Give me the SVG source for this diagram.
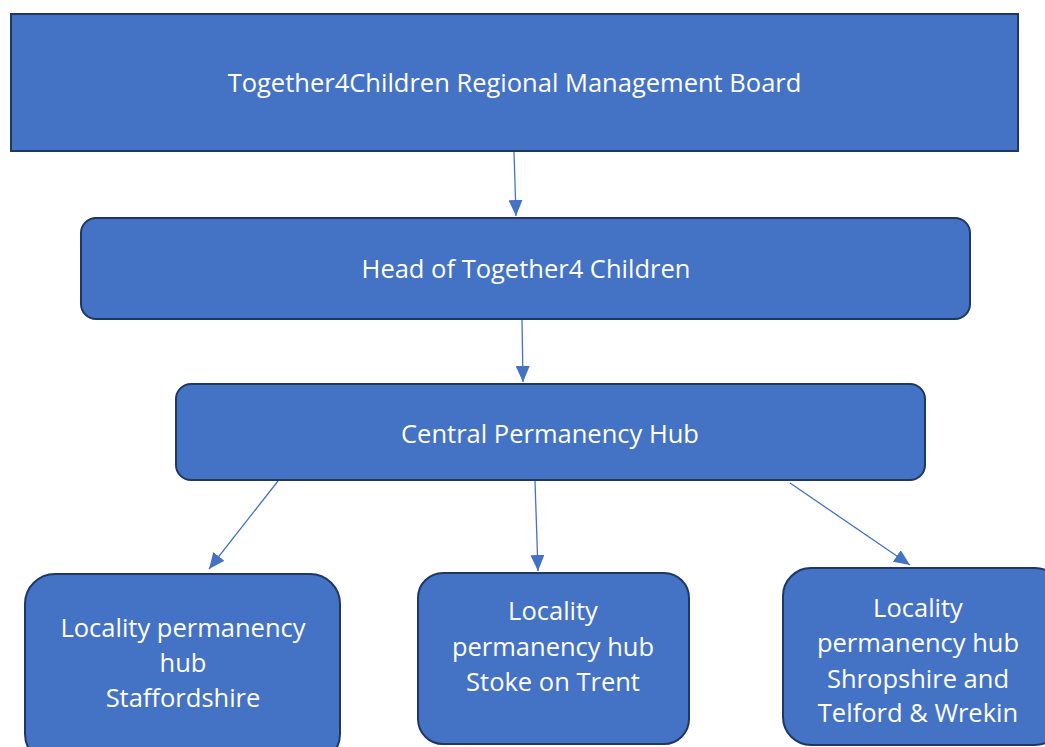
<svg xmlns="http://www.w3.org/2000/svg" width="1045" height="747" viewBox="0 0 1045 747">
<style>
.box{fill:#4472C4;stroke:#1F3763;stroke-width:2}
.t{font-family:"Open Sans","Liberation Sans",sans-serif;fill:#ffffff;text-anchor:middle;font-size:25.5px}
.c{stroke:#4472C4;stroke-width:1.3;fill:none;marker-end:url(#ah)}
</style>
<defs>
<marker id="ah" viewBox="0 0 16 14" refX="16" refY="7" markerWidth="16" markerHeight="14" markerUnits="userSpaceOnUse" orient="auto">
<path d="M0,0 L16,7 L0,14 Z" fill="#4472C4"/>
</marker>
</defs>
<rect width="1045" height="747" fill="#ffffff"/>
<g id="connectors">
<line class="c" x1="514" y1="152" x2="516" y2="216"/>
<line class="c" x1="522" y1="320" x2="523" y2="382"/>
<line class="c" x1="278" y1="481" x2="209" y2="569"/>
<line class="c" x1="535" y1="481" x2="538" y2="571"/>
<line class="c" x1="790" y1="483" x2="910" y2="565"/>
</g>
<g id="board">
<rect class="box" x="11" y="14" width="1007" height="137"/>
<text class="t" x="514.5" y="92">Together4Children Regional Management Board</text>
</g>
<g id="head">
<rect class="box" x="81" y="218" width="889" height="101" rx="15"/>
<text class="t" x="526" y="278">Head of Together4 Children</text>
</g>
<g id="central">
<rect class="box" x="176" y="384" width="749" height="96" rx="15"/>
<text class="t" x="550" y="443">Central Permanency Hub</text>
</g>
<g id="staffordshire">
<rect class="box" x="25" y="574" width="315" height="190" rx="30"/>
<text class="t"><tspan x="183" y="637">Locality permanency</tspan><tspan x="183" y="672">hub</tspan><tspan x="183" y="707">Staffordshire</tspan></text>
</g>
<g id="stoke">
<rect class="box" x="418" y="573" width="271" height="171" rx="25"/>
<text class="t"><tspan x="553" y="620">Locality</tspan><tspan x="553" y="656">permanency hub</tspan><tspan x="553" y="691">Stoke on Trent</tspan></text>
</g>
<g id="shropshire">
<rect class="box" x="783" y="568" width="280" height="177" rx="28"/>
<text class="t"><tspan x="918" y="617">Locality</tspan><tspan x="918" y="652">permanency hub</tspan><tspan x="918" y="688">Shropshire and</tspan><tspan x="918" y="722">Telford &amp; Wrekin</tspan></text>
</g>
</svg>
